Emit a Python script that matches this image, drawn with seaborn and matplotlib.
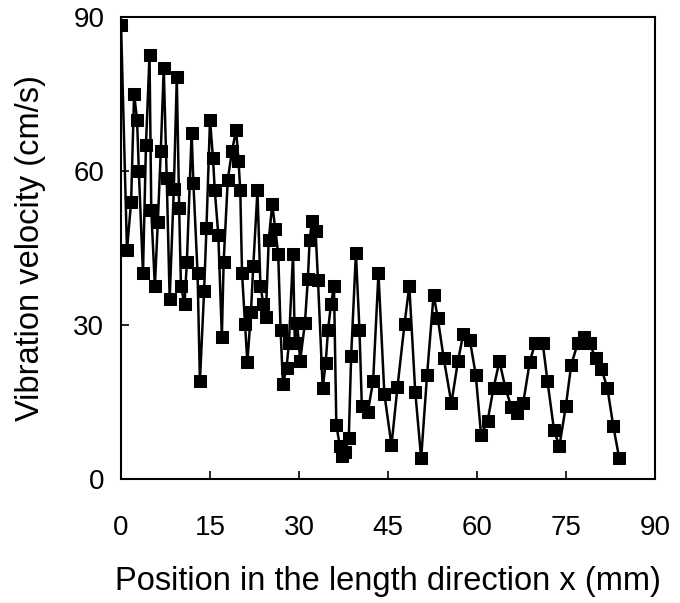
import matplotlib
matplotlib.use("Agg")
import matplotlib.pyplot as plt
import pandas as pd
import seaborn as sns

position_mm = [
    0.0, 1.0, 1.7, 2.2, 2.7, 3.0, 3.7, 4.2, 4.8, 5.1,
    5.7, 6.2, 6.7, 7.2, 7.7, 8.2, 8.9, 9.4, 9.8, 10.1,
    10.7, 11.1, 11.9, 12.2, 12.9, 13.3, 14.0, 14.4, 15.0, 15.5,
    15.8, 16.4, 17.0, 17.3, 18.0, 18.7, 19.4, 19.8, 20.1, 20.4,
    20.9, 21.3, 21.9, 22.3, 23.0, 23.5, 24.0, 24.4, 24.9, 25.5,
    26.0, 26.5, 26.9, 27.3, 27.9, 28.3, 29.0, 29.3, 29.7, 30.2,
    31.0, 31.5, 31.8, 32.2, 32.8, 33.2, 34.0, 34.5, 34.9, 35.4,
    35.9, 36.3, 36.9, 37.3, 37.7, 38.4, 38.8, 39.6, 40.2, 40.6,
    41.6, 42.5, 43.4, 44.4, 45.6, 46.6, 47.8, 48.6, 49.6, 50.6,
    51.6, 52.7, 53.4, 54.4, 55.7, 56.8, 57.7, 58.8, 59.8, 60.7,
    61.8, 62.8, 63.8, 64.8, 65.8, 66.8, 67.8, 68.9, 69.8, 71.1,
    71.9, 73.0, 73.9, 75.0, 75.9, 77.0, 78.0, 79.0, 80.0, 81.0,
    82.0, 83.0, 84.0,
]
velocity_cms = [
    88.5, 44.5, 54.0, 75.0, 70.0, 60.0, 40.0, 65.0, 82.5, 52.3,
    37.5, 50.0, 63.8, 80.0, 58.6, 35.0, 56.5, 78.2, 52.8, 37.5,
    34.0, 42.3, 67.4, 57.6, 40.1, 19.0, 36.5, 48.8, 70.0, 62.5,
    56.3, 47.5, 27.7, 42.3, 58.3, 63.8, 68.0, 62.0, 56.3, 40.1,
    30.2, 22.7, 32.5, 41.5, 56.2, 37.6, 34.0, 31.6, 46.5, 53.5,
    48.7, 43.8, 29.0, 18.5, 21.6, 26.4, 43.8, 26.5, 30.3, 23.0,
    30.3, 39.0, 46.5, 50.3, 48.3, 38.8, 17.7, 22.5, 29.0, 34.0,
    37.6, 10.5, 6.3, 4.5, 5.3, 8.0, 24.0, 44.0, 29.0, 14.1,
    13.0, 19.0, 40.0, 16.5, 6.5, 17.8, 30.2, 37.6, 17.0, 4.0,
    20.3, 35.9, 31.3, 23.5, 14.7, 22.9, 28.2, 27.1, 20.3, 8.6,
    11.2, 17.7, 22.9, 17.7, 14.0, 12.8, 14.7, 22.7, 26.4, 26.4,
    19.0, 9.5, 6.3, 14.2, 22.2, 26.4, 27.7, 26.4, 23.5, 21.4,
    17.7, 10.2, 4.0,
]
x_ticks = [0, 15, 30, 45, 60, 75, 90]
y_ticks = [0, 30, 60, 90]

df = pd.DataFrame({"x": position_mm, "v": velocity_cms})

sns.set_style("ticks")
plt.rcParams["font.family"] = ["Liberation Sans", "DejaVu Sans"]

fig = plt.figure(figsize=(6.8, 6.03), dpi=100)
ax = fig.add_axes([0.178, 0.206, 0.785, 0.766])

sns.lineplot(data=df, x="x", y="v", sort=False, ax=ax, color="black",
             linewidth=1.8, marker="s", markersize=8.5, markeredgecolor="black")

ax.set_xlim(0, 90)
ax.set_ylim(0, 90)
ax.set_xticks(x_ticks)
ax.set_yticks(y_ticks)
ax.tick_params(direction="in", length=6, width=1.2, labelsize=20,
               labelcolor="black", color="black")
ax.tick_params(axis="x", pad=26)
ax.tick_params(axis="y", pad=12)
for s in ax.spines.values():
    s.set_visible(True)
    s.set_linewidth(1.5)
    s.set_color("black")

ax.set_xlabel("Position in the length direction x (mm)", fontsize=23.5,
              labelpad=18, color="black")
ax.set_ylabel("Vibration velocity (cm/s)", fontsize=23.5, labelpad=20,
              color="black")

fig.savefig("out.png", dpi=100)
